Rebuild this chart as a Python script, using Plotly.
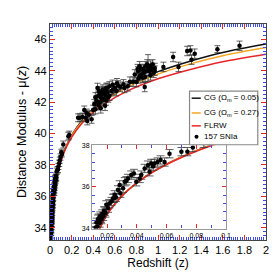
import numpy as np
import plotly.graph_objects as go

# ---- model curves ----
z_curve = [0.01, 0.02, 0.03, 0.04, 0.05, 0.06, 0.07, 0.08, 0.09, 0.1, 0.15, 0.2, 0.3,
           0.4, 0.5, 0.7, 1.0, 1.3, 1.6, 2.0]
mu_flrw = [33.16, 34.67, 35.56, 36.19, 36.68, 37.08, 37.42, 37.72, 37.98, 38.21, 39.11,
           39.76, 40.68, 41.34, 41.86, 42.65, 43.48, 44.08, 44.57, 45.05]
mu_cg05 = [33.16, 34.67, 35.57, 36.20, 36.70, 37.10, 37.45, 37.75, 38.02, 38.26, 39.19,
           39.88, 40.86, 41.58, 42.15, 43.02, 43.94, 44.61, 45.16, 45.70]
mu_cg27 = [33.16, 34.67, 35.57, 36.20, 36.69, 37.09, 37.44, 37.74, 38.01, 38.24, 39.16,
           39.84, 40.80, 41.50, 42.05, 42.89, 43.78, 44.43, 44.95, 45.47]

# ---- SNIa data ----
sn_z = [0.0095, 0.0105, 0.011, 0.0115, 0.012, 0.0125, 0.013, 0.0136, 0.014, 0.0145,
        0.0151, 0.0155, 0.016, 0.0163, 0.0168, 0.0174, 0.018, 0.0185, 0.019, 0.0196,
        0.0207, 0.0215, 0.023, 0.024, 0.0247, 0.0252, 0.026, 0.0274, 0.0285, 0.029,
        0.0308, 0.0319, 0.033, 0.0341, 0.0363, 0.0381, 0.0397, 0.042, 0.043, 0.0453,
        0.0475, 0.0486, 0.0497, 0.051, 0.052, 0.054, 0.056, 0.0587, 0.062, 0.07,
        0.074, 0.0777, 0.085, 0.09, 0.097, 0.105, 0.11,
        0.123, 0.17, 0.178, 0.26, 0.277, 0.30, 0.317, 0.33, 0.34, 0.345, 0.36, 0.385,
        0.40, 0.41, 0.42, 0.42, 0.43, 0.44, 0.44, 0.446, 0.45, 0.452, 0.46, 0.46, 0.47,
        0.47, 0.477, 0.48, 0.49, 0.49, 0.50, 0.50, 0.51, 0.514, 0.52, 0.52, 0.53, 0.53,
        0.54, 0.55, 0.55, 0.57, 0.58, 0.585, 0.60, 0.615, 0.62, 0.63, 0.65, 0.68, 0.69,
        0.72, 0.74, 0.77, 0.785, 0.80, 0.81, 0.815, 0.82, 0.83, 0.83, 0.84, 0.846, 0.86,
        0.86, 0.87, 0.877, 0.88, 0.883, 0.89, 0.90, 0.908, 0.923, 0.93, 0.93, 0.945,
        0.95, 0.96, 0.97, 0.97, 1.05, 1.14, 1.19, 1.27, 1.30, 1.31, 1.34, 1.55, 1.755]
sn_mu = [33.3, 33.55, 33.7, 33.9, 33.85, 34.05, 34.3, 34.1, 34.45, 34.5,
         34.27, 34.6, 34.5, 34.43, 34.7, 34.59, 34.85, 34.83, 34.75, 35.14,
         34.98, 35.2, 35.3, 35.45, 35.46, 35.62, 35.5, 35.86, 36.1, 35.7,
         35.94, 36.25, 36.3, 36.41, 36.57, 36.65, 36.25, 36.41, 36.57, 36.89,
         37.05, 36.73, 37.13, 37.0, 37.13, 37.2, 37.3, 37.2, 37.6, 37.7,
         37.7, 37.9, 38.1, 38.3, 38.5, 38.8, 38.7,
         39.3, 39.83, 39.9, 41.0, 41.0, 41.05, 41.5, 41.0, 41.3, 40.8, 41.2, 40.9,
         41.5, 41.87, 41.55, 42.3, 42.08, 42.0, 42.9, 42.4, 41.8, 42.7, 41.97, 42.6, 42.3,
         41.6, 42.6, 42.1, 42.8, 42.5, 42.2, 42.7, 41.76, 42.43, 42.9, 42.1, 42.64, 42.9,
         42.29, 43.0, 42.4, 42.7, 43.1, 42.8, 42.9, 42.7, 43.2, 43.06, 42.98, 43.13, 42.9,
         43.0, 43.3, 43.3, 43.76, 43.27, 44.1, 43.97, 43.5, 44.28, 43.65, 44.07, 43.76, 44.11,
         43.55, 43.86, 42.96, 43.6, 44.28, 43.97, 44.4, 44.17, 43.97, 44.32, 43.7, 44.11,
         44.4, 43.86, 44.17, 44.0, 44.24, 44.87, 44.24, 45.25, 45.29, 44.7, 45.08, 45.37, 45.58]
sn_err = [0.2] * 57 + [0.22, 0.25, 0.25, 0.25, 0.25, 0.25, 0.25, 0.25, 0.25, 0.25, 0.25, 0.25,
                       0.3, 0.3, 0.3, 0.3, 0.3, 0.3, 0.3, 0.3, 0.3, 0.3, 0.3, 0.3, 0.3, 0.3,
                       0.3, 0.3, 0.3, 0.3, 0.3, 0.3, 0.3, 0.3, 0.3, 0.3, 0.3, 0.3, 0.3, 0.3,
                       0.3, 0.3, 0.3, 0.3, 0.3, 0.3, 0.3, 0.3, 0.3, 0.3, 0.3, 0.3, 0.3, 0.3,
                       0.3, 0.3, 0.3, 0.3, 0.3, 0.3, 0.3, 0.3, 0.3, 0.3, 0.3, 0.3, 0.3, 0.3,
                       0.3, 0.3, 0.3, 0.85, 0.3, 0.3, 0.3, 0.3, 0.3, 0.3, 0.3, 0.3, 0.3,
                       0.3, 0.3, 0.3, 0.3, 0.3, 0.3, 0.22, 0.3, 0.2, 0.2, 0.3, 0.2, 0.2, 0.3]
n = min(len(sn_z), len(sn_mu), len(sn_err))
sn_z, sn_mu, sn_err = sn_z[:n], sn_mu[:n], sn_err[:n]

legend_labels = ["CG (Ω<sub>m</sub> = 0.05)", "CG (Ω<sub>m</sub> = 0.27)", "FLRW", "157 SNIa"]

FONT = "Liberation Sans, Arial, sans-serif"
BLACK, ORANGE, RED = "#111111", "#f5a623", "#e8262a"
BLUE = "#3b4cf0"
ERRC = "#3a3a3a"
colors = [BLACK, ORANGE, RED]
curves = [mu_cg05, mu_cg27, mu_flrw]

fig = go.Figure()
for mu, col, nm in zip(curves, colors, legend_labels[:3]):
    fig.add_trace(go.Scatter(x=z_curve, y=mu, mode="lines", line=dict(color=col, width=1.5, shape="spline"),
                             name=nm, showlegend=False, xaxis="x", yaxis="y"))
fig.add_trace(go.Scatter(x=sn_z, y=sn_mu, mode="markers", name=legend_labels[3], showlegend=False,
                         marker=dict(color="black", size=4.5),
                         error_y=dict(type="data", array=sn_err, color=ERRC, thickness=0.8, width=3),
                         xaxis="x", yaxis="y"))

# inset
zi = np.array(sn_z); mi = np.array(sn_mu); ei = np.array(sn_err)
mask = (zi <= 0.1)
for mu, col in zip(curves, colors):
    fig.add_trace(go.Scatter(x=z_curve, y=mu, mode="lines", line=dict(color=col, width=1.5, shape="spline"),
                             showlegend=False, xaxis="x2", yaxis="y2"))
fig.add_trace(go.Scatter(x=zi[mask], y=mi[mask], mode="markers", showlegend=False,
                         marker=dict(color="black", size=4.5),
                         error_y=dict(type="data", array=ei[mask], color=ERRC, thickness=0.8, width=4),
                         xaxis="x2", yaxis="y2"))

# legend box drawn in paper coordinates
lx0, lx1, ly0, ly1 = 0.646, 0.962, 0.441, 0.689
row_y = [0.6565, 0.588, 0.5284, 0.4778]
shapes = [dict(type="rect", xref="paper", yref="paper", x0=lx0, x1=lx1, y0=ly0, y1=ly1,
               line=dict(color="#888888", width=1.2), fillcolor="white", layer="above")]
annotations = []
for i, lab in enumerate(legend_labels):
    if i < 3:
        shapes.append(dict(type="line", xref="paper", yref="paper", x0=0.656, x1=0.698,
                           y0=row_y[i], y1=row_y[i], line=dict(color=colors[i], width=1.5), layer="above"))
    else:
        shapes.append(dict(type="circle", xref="paper", yref="paper", x0=0.6690, x1=0.6875,
                           y0=row_y[i] - 0.0092, y1=row_y[i] + 0.0092,
                           line=dict(color="black", width=0), fillcolor="black", layer="above"))
    annotations.append(dict(xref="paper", yref="paper", x=0.706, y=row_y[i], xanchor="left",
                            yanchor="middle", text=lab, showarrow=False,
                            font=dict(family=FONT, size=8, color="black")))

axis_common = dict(showline=True, linecolor="#444444", linewidth=1.2, mirror="allticks",
                   ticks="inside", tickcolor=RED, ticklen=5, showgrid=False, zeroline=False,
                   tickfont=dict(family=FONT, size=11, color="black"))
inset_common = dict(showline=True, linecolor="#999999", linewidth=1.2, mirror="allticks",
                    ticks="inside", tickcolor=RED, ticklen=4, showgrid=False, zeroline=False,
                    tickfont=dict(family=FONT, size=7, color="black"))
fig.update_layout(
    width=277, height=277, margin=dict(l=42, r=19, t=14, b=45),
    paper_bgcolor="white", plot_bgcolor="white",
    font=dict(family=FONT, size=11, color="black"),
    xaxis=dict(range=[0, 2], dtick=0.2, tick0=0,
               minor=dict(dtick=0.02, ticks="inside", ticklen=3, tickcolor=BLUE),
               title=dict(text="Redshift (z)", font=dict(family=FONT, size=12), standoff=3),
               **axis_common),
    yaxis=dict(range=[33.22, 46.97], dtick=2, tick0=34,
               minor=dict(dtick=0.25, ticks="inside", ticklen=3, tickcolor=BLUE),
               title=dict(text="Distance Modulus - μ(<i>z</i>)", font=dict(family=FONT, size=12.5), standoff=5),
               **axis_common),
    xaxis2=dict(domain=[0.195, 0.815], anchor="y2", range=[0.01, 0.1], dtick=0.02, tick0=0,
                minor=dict(dtick=0.01, ticks="inside", ticklen=3, tickcolor=BLUE),
                tickformat=".2~f", **inset_common),
    yaxis2=dict(domain=[0.053, 0.438], anchor="x2", range=[34, 38], dtick=2, tick0=34,
                minor=dict(dtick=0.4, ticks="inside", ticklen=3, tickcolor=BLUE),
                **inset_common),
    shapes=shapes, annotations=annotations,
    showlegend=False,
)
fig.write_html("out.html")
